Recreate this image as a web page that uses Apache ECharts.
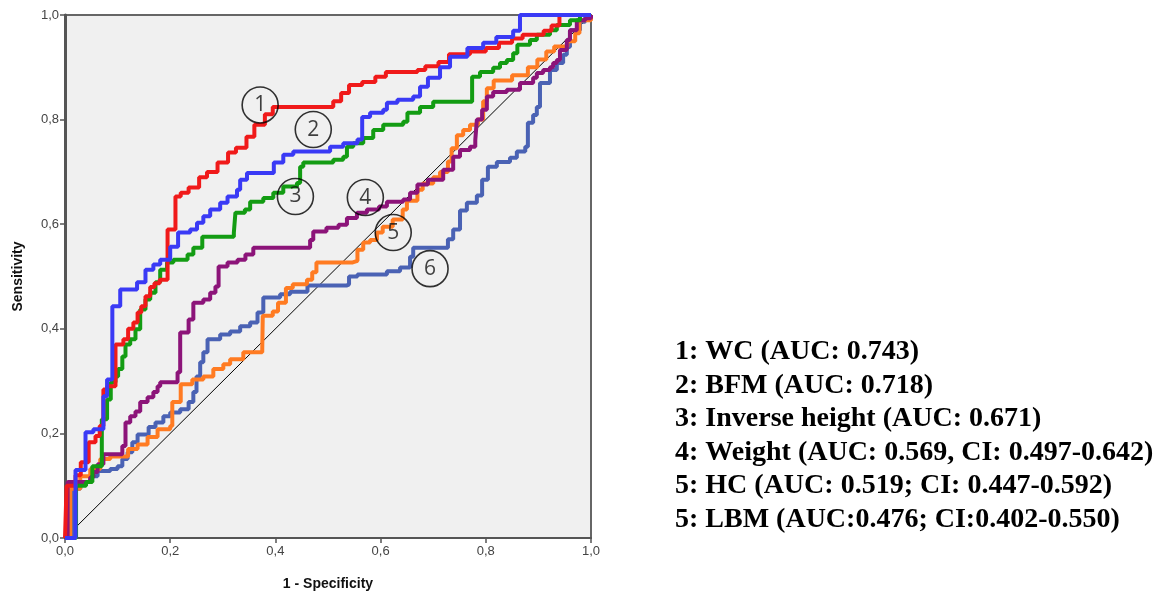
<!DOCTYPE html>
<html><head><meta charset="utf-8">
<script src="https://cdn.jsdelivr.net/npm/echarts@6/dist/echarts.min.js"></script>
<style>html,body{margin:0;padding:0;background:#fff}#c{width:1166px;height:596px}</style>
</head><body><div id="c"></div>
<script>
// ---- data (x = 1 - Specificity, y = Sensitivity) ----
const tickLabels = ['0,0','0,2','0,4','0,6','0,8','1,0'];
const seriesNames = ['WC','BFM','Inverse height','Weight','HC','LBM'];
const legendLines = [
  '1: WC (AUC: 0.743)',
  '2: BFM (AUC: 0.718)',
  '3: Inverse height (AUC: 0.671)',
  '4: Weight (AUC: 0.569, CI: 0.497-0.642)',
  '5: HC (AUC: 0.519; CI: 0.447-0.592)',
  '5: LBM (AUC:0.476; CI:0.402-0.550)'
];
const curveLabels = ['1','2','3','4','5','6'];
const labelPos = [[0.371,0.828],[0.472,0.781],[0.438,0.653],[0.571,0.651],[0.624,0.584],[0.694,0.515]];
const diagonal = [[0,0],[1,1]];

const wc = [[0,0],[0.003,0.10],[0.02,0.12],[0.03,0.145],[0.045,0.183],[0.058,0.195],[0.066,0.214],[0.073,0.284],[0.08,0.29],[0.096,0.37],[0.111,0.38],[0.12,0.40],[0.13,0.412],[0.138,0.431],[0.145,0.443],[0.153,0.462],[0.162,0.48],[0.17,0.487],[0.18,0.494],[0.195,0.59],[0.21,0.653],[0.22,0.66],[0.235,0.67],[0.255,0.69],[0.27,0.70],[0.29,0.718],[0.31,0.737],[0.325,0.746],[0.345,0.767],[0.36,0.79],[0.38,0.81],[0.395,0.824],[0.51,0.835],[0.525,0.851],[0.54,0.866],[0.565,0.872],[0.59,0.882],[0.61,0.891],[0.67,0.895],[0.685,0.902],[0.71,0.91],[0.73,0.925],[0.77,0.93],[0.80,0.937],[0.825,0.947],[0.85,0.955],[0.87,0.962],[0.91,0.97],[0.925,0.98],[0.94,1.0],[1,1]];
const bfm = [[0,0],[0.02,0.13],[0.039,0.202],[0.054,0.208],[0.073,0.271],[0.08,0.303],[0.09,0.443],[0.105,0.475],[0.137,0.489],[0.153,0.513],[0.168,0.523],[0.181,0.532],[0.20,0.557],[0.215,0.584],[0.238,0.59],[0.251,0.603],[0.263,0.615],[0.276,0.628],[0.295,0.641],[0.309,0.653],[0.327,0.666],[0.333,0.685],[0.346,0.698],[0.397,0.718],[0.415,0.733],[0.434,0.739],[0.504,0.748],[0.529,0.755],[0.556,0.762],[0.565,0.805],[0.58,0.813],[0.605,0.819],[0.612,0.832],[0.632,0.838],[0.662,0.844],[0.675,0.863],[0.69,0.88],[0.713,0.90],[0.732,0.92],[0.765,0.937],[0.795,0.947],[0.82,0.958],[0.852,0.97],[0.865,1.0],[1,1]];
const invHeight = [[0,0],[0.021,0.10],[0.04,0.107],[0.052,0.137],[0.07,0.227],[0.08,0.265],[0.087,0.298],[0.096,0.309],[0.101,0.323],[0.109,0.347],[0.115,0.37],[0.124,0.38],[0.134,0.399],[0.143,0.437],[0.153,0.456],[0.162,0.469],[0.172,0.489],[0.181,0.513],[0.194,0.527],[0.206,0.532],[0.233,0.542],[0.244,0.555],[0.261,0.576],[0.321,0.584],[0.324,0.622],[0.342,0.628],[0.352,0.643],[0.377,0.65],[0.396,0.66],[0.415,0.672],[0.441,0.679],[0.447,0.71],[0.453,0.718],[0.51,0.723],[0.529,0.729],[0.536,0.748],[0.548,0.755],[0.567,0.765],[0.586,0.78],[0.605,0.79],[0.643,0.796],[0.651,0.813],[0.675,0.824],[0.70,0.834],[0.774,0.882],[0.789,0.891],[0.814,0.899],[0.827,0.908],[0.84,0.914],[0.852,0.927],[0.86,0.943],[0.884,0.952],[0.897,0.962],[0.922,0.971],[0.935,0.981],[0.96,0.99],[0.979,1.0],[1,1]];
const weight = [[0,0],[0.005,0.107],[0.048,0.116],[0.054,0.126],[0.062,0.141],[0.073,0.16],[0.109,0.176],[0.115,0.221],[0.124,0.233],[0.134,0.242],[0.143,0.26],[0.157,0.269],[0.168,0.279],[0.176,0.29],[0.181,0.298],[0.214,0.317],[0.219,0.393],[0.235,0.418],[0.244,0.45],[0.263,0.456],[0.276,0.469],[0.286,0.481],[0.292,0.519],[0.309,0.527],[0.328,0.532],[0.343,0.542],[0.358,0.555],[0.466,0.57],[0.472,0.586],[0.497,0.593],[0.52,0.599],[0.536,0.612],[0.555,0.622],[0.574,0.628],[0.597,0.634],[0.612,0.643],[0.643,0.647],[0.656,0.66],[0.67,0.676],[0.69,0.685],[0.719,0.704],[0.738,0.729],[0.751,0.742],[0.77,0.748],[0.78,0.761],[0.783,0.80],[0.793,0.819],[0.802,0.844],[0.814,0.853],[0.84,0.857],[0.865,0.87],[0.89,0.88],[0.897,0.889],[0.909,0.895],[0.922,0.90],[0.928,0.908],[0.935,0.914],[0.941,0.933],[0.954,0.952],[0.96,0.971],[0.973,0.99],[0.989,0.994],[1,1]];
const hc = [[0,0],[0.01,0.094],[0.029,0.118],[0.048,0.132],[0.067,0.151],[0.086,0.156],[0.12,0.17],[0.138,0.179],[0.157,0.193],[0.176,0.208],[0.2,0.214],[0.204,0.26],[0.22,0.294],[0.242,0.303],[0.263,0.309],[0.282,0.323],[0.301,0.332],[0.314,0.342],[0.339,0.355],[0.375,0.361],[0.376,0.425],[0.395,0.433],[0.405,0.45],[0.42,0.478],[0.433,0.485],[0.46,0.494],[0.47,0.508],[0.478,0.527],[0.547,0.53],[0.556,0.551],[0.567,0.565],[0.58,0.57],[0.593,0.584],[0.604,0.595],[0.623,0.609],[0.642,0.628],[0.65,0.645],[0.67,0.666],[0.68,0.678],[0.70,0.69],[0.713,0.70],[0.728,0.72],[0.735,0.745],[0.745,0.77],[0.757,0.78],[0.77,0.79],[0.785,0.80],[0.795,0.835],[0.802,0.86],[0.815,0.875],[0.85,0.885],[0.88,0.90],[0.898,0.915],[0.915,0.93],[0.93,0.94],[0.955,0.95],[0.97,0.965],[0.978,0.99],[1,1]];
const lbm = [[0,0],[0.016,0.094],[0.029,0.107],[0.048,0.118],[0.062,0.128],[0.086,0.132],[0.10,0.137],[0.109,0.151],[0.119,0.164],[0.128,0.183],[0.138,0.198],[0.159,0.212],[0.172,0.221],[0.187,0.233],[0.20,0.24],[0.219,0.246],[0.235,0.26],[0.244,0.279],[0.25,0.309],[0.257,0.336],[0.263,0.355],[0.271,0.38],[0.295,0.389],[0.314,0.395],[0.333,0.405],[0.352,0.412],[0.366,0.431],[0.377,0.46],[0.409,0.466],[0.428,0.471],[0.461,0.483],[0.536,0.485],[0.54,0.50],[0.556,0.504],[0.612,0.51],[0.637,0.517],[0.656,0.538],[0.662,0.555],[0.719,0.555],[0.728,0.571],[0.738,0.59],[0.751,0.626],[0.764,0.641],[0.783,0.655],[0.793,0.685],[0.804,0.71],[0.821,0.719],[0.846,0.727],[0.859,0.739],[0.875,0.748],[0.88,0.794],[0.89,0.809],[0.897,0.824],[0.903,0.87],[0.922,0.895],[0.935,0.908],[0.947,0.924],[0.954,0.939],[0.96,0.971],[0.979,0.987],[0.989,1.0],[1,1]];

const curves = [wc, bfm, invHeight, weight, hc, lbm];
const colors = ['#f01a1a','#3a3af5','#139c13','#8c1479','#ff7b22','#4a62b4'];
const zOrder = [6,7,5,4,3,2];

const chart = echarts.init(document.getElementById('c'));
const series = [{
  type:'line', data: diagonal, symbol:'none', silent:true,
  lineStyle:{color:'#000', width:1}, z:1
}];
curves.forEach((d,i)=>{
  series.push({
    name: seriesNames[i], type:'line', data:d, step:'end', symbol:'none',
    lineStyle:{color:colors[i], width:4}, z: zOrder[i]
  });
});
series.push({
  type:'scatter', data: labelPos, symbol:'circle', symbolSize:36, z:20, silent:true,
  itemStyle:{color:'rgba(0,0,0,0)', borderColor:'#000', borderWidth:1.6},
  label:{show:true, position:'inside', formatter:p=>curveLabels[p.dataIndex],
    color:'#111', fontSize:21, fontFamily:'"Open Sans","DejaVu Sans",sans-serif'}
});

const axisCommon = {
  type:'value', min:0, max:1, interval:0.2,
  splitLine:{show:false},
  axisTick:{show:true, length:5, lineStyle:{color:'#555', width:1.5}},
  axisLabel:{color:'#444', fontSize:13, fontFamily:'"Liberation Sans",Arial,sans-serif',
    formatter:(v)=>tickLabels[Math.round(v/0.2)]},
  nameTextStyle:{fontWeight:'bold', fontSize:14, color:'#111', fontFamily:'"Liberation Sans",Arial,sans-serif'}
};

chart.setOption({
  animation:false,
  backgroundColor:'#fff',
  grid:{left:65, top:15, width:526, height:524, show:true, backgroundColor:'#f0f0f0', borderColor:'#666', borderWidth:2},
  xAxis: Object.assign({}, axisCommon, {
    name:'1 - Specificity', nameLocation:'middle', nameGap:39,
    axisLine:{show:true, lineStyle:{color:'#555', width:2}},
    axisLabel:Object.assign({}, axisCommon.axisLabel, {margin:7})
  }),
  yAxis: Object.assign({}, axisCommon, {
    name:'Sensitivity', nameLocation:'middle', nameGap:40, nameRotate:90,
    axisLine:{show:true, lineStyle:{color:'#555', width:3}},
    axisLabel:Object.assign({}, axisCommon.axisLabel, {margin:6})
  }),
  series: series,
  graphic: legendLines.map((t,i)=>({
    type:'text', left:675, top:338 + i*33.5,
    style:{text:t, fill:'#000', font:'bold 28px "Liberation Serif","Times New Roman",serif'}
  }))
});
</script></body></html>
